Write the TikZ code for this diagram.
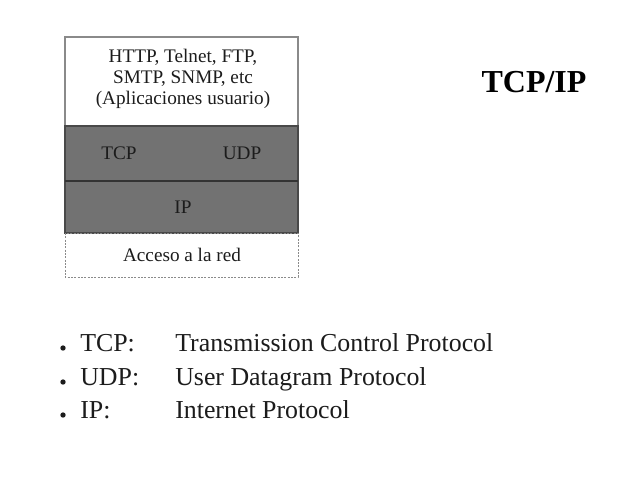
\documentclass[tikz,border=0pt]{standalone}
\usepackage{fontspec}
\setmainfont{Liberation Serif}
\usepackage{tikz}
\usetikzlibrary{positioning}
\definecolor{layergray}{HTML}{727272}
\definecolor{edgegray}{HTML}{8A8A8A}
\definecolor{inkdark}{HTML}{1C1C1C}
\tikzset{>=latex}
\tikzstyle{layertext} = [draw=none, align=center, inner sep=0pt, text=inkdark, font=\fontsize{14.4}{15.8}\selectfont]
\tikzstyle{listtext} = [draw=none, anchor=base west, inner sep=0pt, text=inkdark, font=\fontsize{19.4}{24}\selectfont]

\begin{document}
\begin{tikzpicture}[x=0.75pt, y=-0.75pt]
\useasboundingbox (0,0) rectangle (640,479);
\fill [white] (0,0) rectangle (640,479);
% protocol stack
\draw [draw=edgegray, line width=0.9pt, fill=white] (65,37) rectangle (298,126);
\draw [draw=inkdark!80, line width=0.8pt, fill=layergray] (65,126) rectangle (298,233);
\draw [draw=inkdark!90, line width=1.4pt] (65,181) -- (298,181);
\draw [draw=edgegray, line width=0.7pt, dash pattern=on 1.5pt off 1pt] (65,233) rectangle (298,277);
\node [layertext] (app) at (183,79) {HTTP, Telnet, FTP,\\SMTP, SNMP, etc\\(Aplicaciones usuario)};
\node [layertext] (tcp) at (119,153) {TCP};
\node [layertext] (udp) at (242,153) {UDP};
\node [layertext] (ip) at (183,207) {IP};
\node [layertext] (acc) at (182,255) {Acceso a la red};
% title
\node [draw=none, inner sep=0pt, font=\fontsize{24}{28}\selectfont\bfseries] (title) at (534,82) {TCP/IP};
% list
\fill [inkdark] (63,348) circle [radius=2pt] coordinate (b1);
\fill [inkdark] (63,382) circle [radius=2pt] coordinate (b2);
\fill [inkdark] (63,415) circle [radius=2pt] coordinate (b3);
\node [listtext] (ltcp) at (80,351) {TCP:};
\node [listtext] (ludp) at (80,385) {UDP:};
\node [listtext] (lip) at (80,418) {IP:};
\node [listtext] (dtcp) at (175,351) {Transmission Control Protocol};
\node [listtext] (dudp) at (175,385) {User Datagram Protocol};
\node [listtext] (dip) at (175,418) {Internet Protocol};
\end{tikzpicture}
\end{document}
